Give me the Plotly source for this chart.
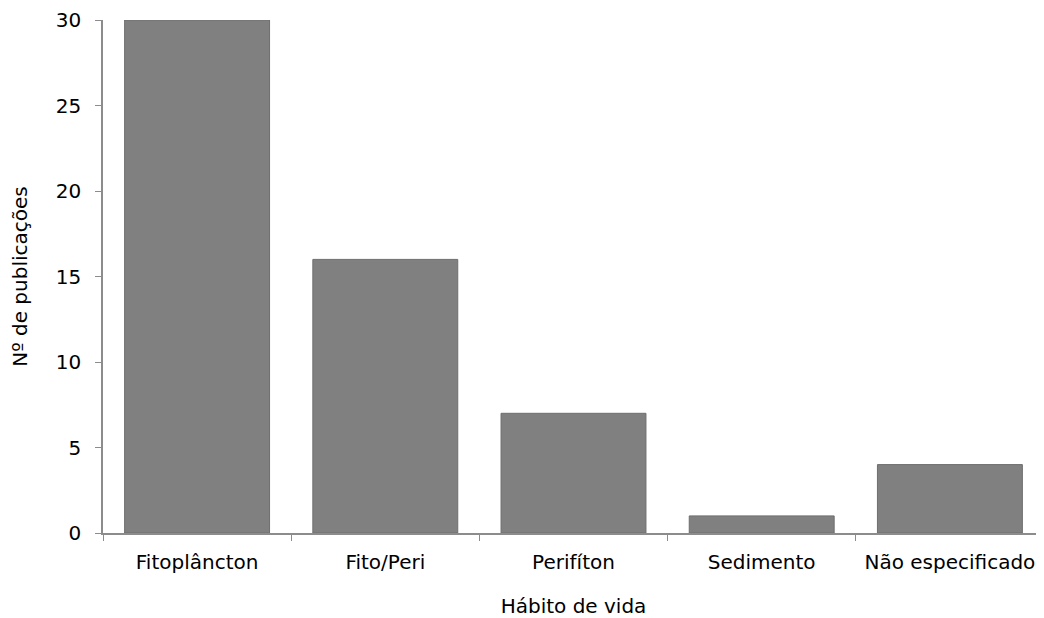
import plotly.graph_objects as go

categories = ["Fitoplâncton", "Fito/Peri", "Perifíton", "Sedimento", "Não especificado"]
values = [30, 16, 7, 1, 4]
y_ticks = [0, 5, 10, 15, 20, 25, 30]

fig = go.Figure(go.Bar(
    x=categories, y=values,
    marker=dict(color="#808080", line=dict(color="#6e6e6e", width=1)),
))

font = dict(family="DejaVu Sans, Verdana, sans-serif", size=20, color="#000000")
fig.update_layout(
    width=1036, height=610,
    margin=dict(l=95, r=0, t=12, b=85),
    paper_bgcolor="white", plot_bgcolor="white",
    bargap=0.23,
    showlegend=False,
    font=font,
)
fig.update_xaxes(
    tickson="boundaries", ticks="outside", ticklen=6, tickcolor="#8c8c8c",
    showline=True, linecolor="#8c8c8c", linewidth=1.5, showgrid=False,
    ticklabelstandoff=10,
    title=dict(text="Hábito de vida", standoff=26, font=font),
    tickfont=font,
)
fig.update_yaxes(
    range=[0, 30], tickvals=y_ticks, ticks="outside", ticklen=6, tickcolor="#8c8c8c",
    showline=True, linecolor="#8c8c8c", linewidth=1.5, showgrid=False, zeroline=False,
    ticklabelstandoff=10,
    title=dict(text="Nº de publicações", standoff=24, font=font),
    tickfont=font,
)
fig.write_html("out.html")
